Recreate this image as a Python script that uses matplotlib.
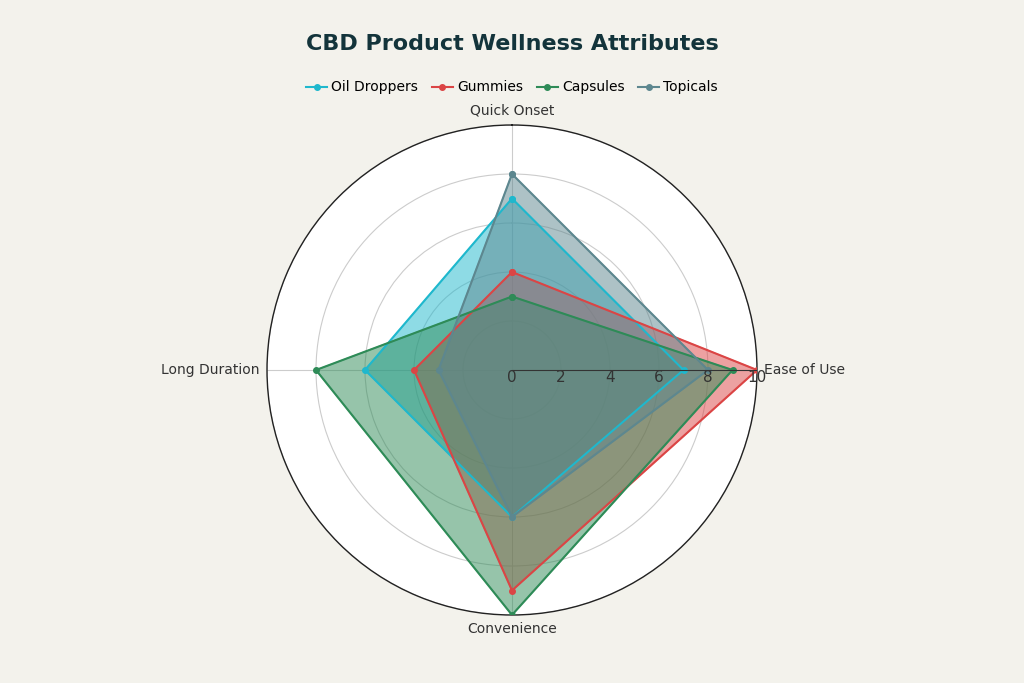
import numpy as np
import matplotlib
matplotlib.use("Agg")
import matplotlib.pyplot as plt

categories = ["Quick Onset", "Ease of Use", "Convenience", "Long Duration"]
series_names = ["Oil Droppers", "Gummies", "Capsules", "Topicals"]
oil = [7, 7, 6, 6]
gummies = [4, 10, 9, 4]
capsules = [3, 9, 10, 8]
topicals = [8, 8, 6, 3]
colors = ["#1FB8CD", "#DB4545", "#2E8B57", "#5D878F"]
bg = "#F3F2EC"

fig = plt.figure(figsize=(10.24, 6.83), dpi=100, facecolor=bg)
ax = fig.add_axes([0.5 - 245/1024, (683-370-245)/683, 490/1024, 490/683], projection="polar")
ax.set_facecolor("white")
ax.set_theta_zero_location("N")
ax.set_theta_direction(-1)
n = len(categories)
ang = np.arange(n) * 2 * np.pi / n
for name, vals, c in zip(series_names, [oil, gummies, capsules, topicals], colors):
    a = np.append(ang, ang[0]); v = np.append(vals, vals[0])
    ax.fill(a, v, color=c, alpha=0.5, zorder=2)
    ax.plot(a, v, color=c, lw=1.5, marker="o", ms=4, label=name, zorder=3)
ax.set_ylim(0, 10)
ax.set_yticks([0, 2, 4, 6, 8, 10])
ax.set_yticklabels([])
for t in [0, 2, 4, 6, 8, 10]:
    ax.text(np.pi/2, t, str(t), ha="center", va="top", fontsize=11, color="#333", zorder=5,
            transform=ax.transData)
ax.set_rlabel_position(90)
ax.set_xticks(ang)
ax.set_xticklabels([])
for a, lab in zip(ang, categories):
    ha = {0: "center"}.get(0, "center")
    if abs(np.sin(a)) > 0.5:
        ha = "left" if np.sin(a) > 0 else "right"
    va = "center"
    if abs(np.sin(a)) < 0.5:
        va = "bottom" if np.cos(a) > 0 else "top"
    ax.text(a, 10.3, lab, ha=ha, va=va, fontsize=10, color="#333")
ax.grid(color="#cccccc", lw=0.8)
ax.spines["polar"].set_color("#222")
ax.spines["polar"].set_linewidth(1)
ax.plot([np.pi/2, np.pi/2], [0, 10], color="#333", lw=0.8, zorder=4)
fig.text(0.5, 0.935, "CBD Product Wellness Attributes", ha="center", va="center",
         fontsize=16, fontweight="bold", color="#13343B")
fig.legend(loc="center", bbox_to_anchor=(0.5, 0.872), ncol=4, frameon=False,
           fontsize=10, handlelength=1.5, columnspacing=1.0, handletextpad=0.3)
fig.savefig("out.png", facecolor=bg)
